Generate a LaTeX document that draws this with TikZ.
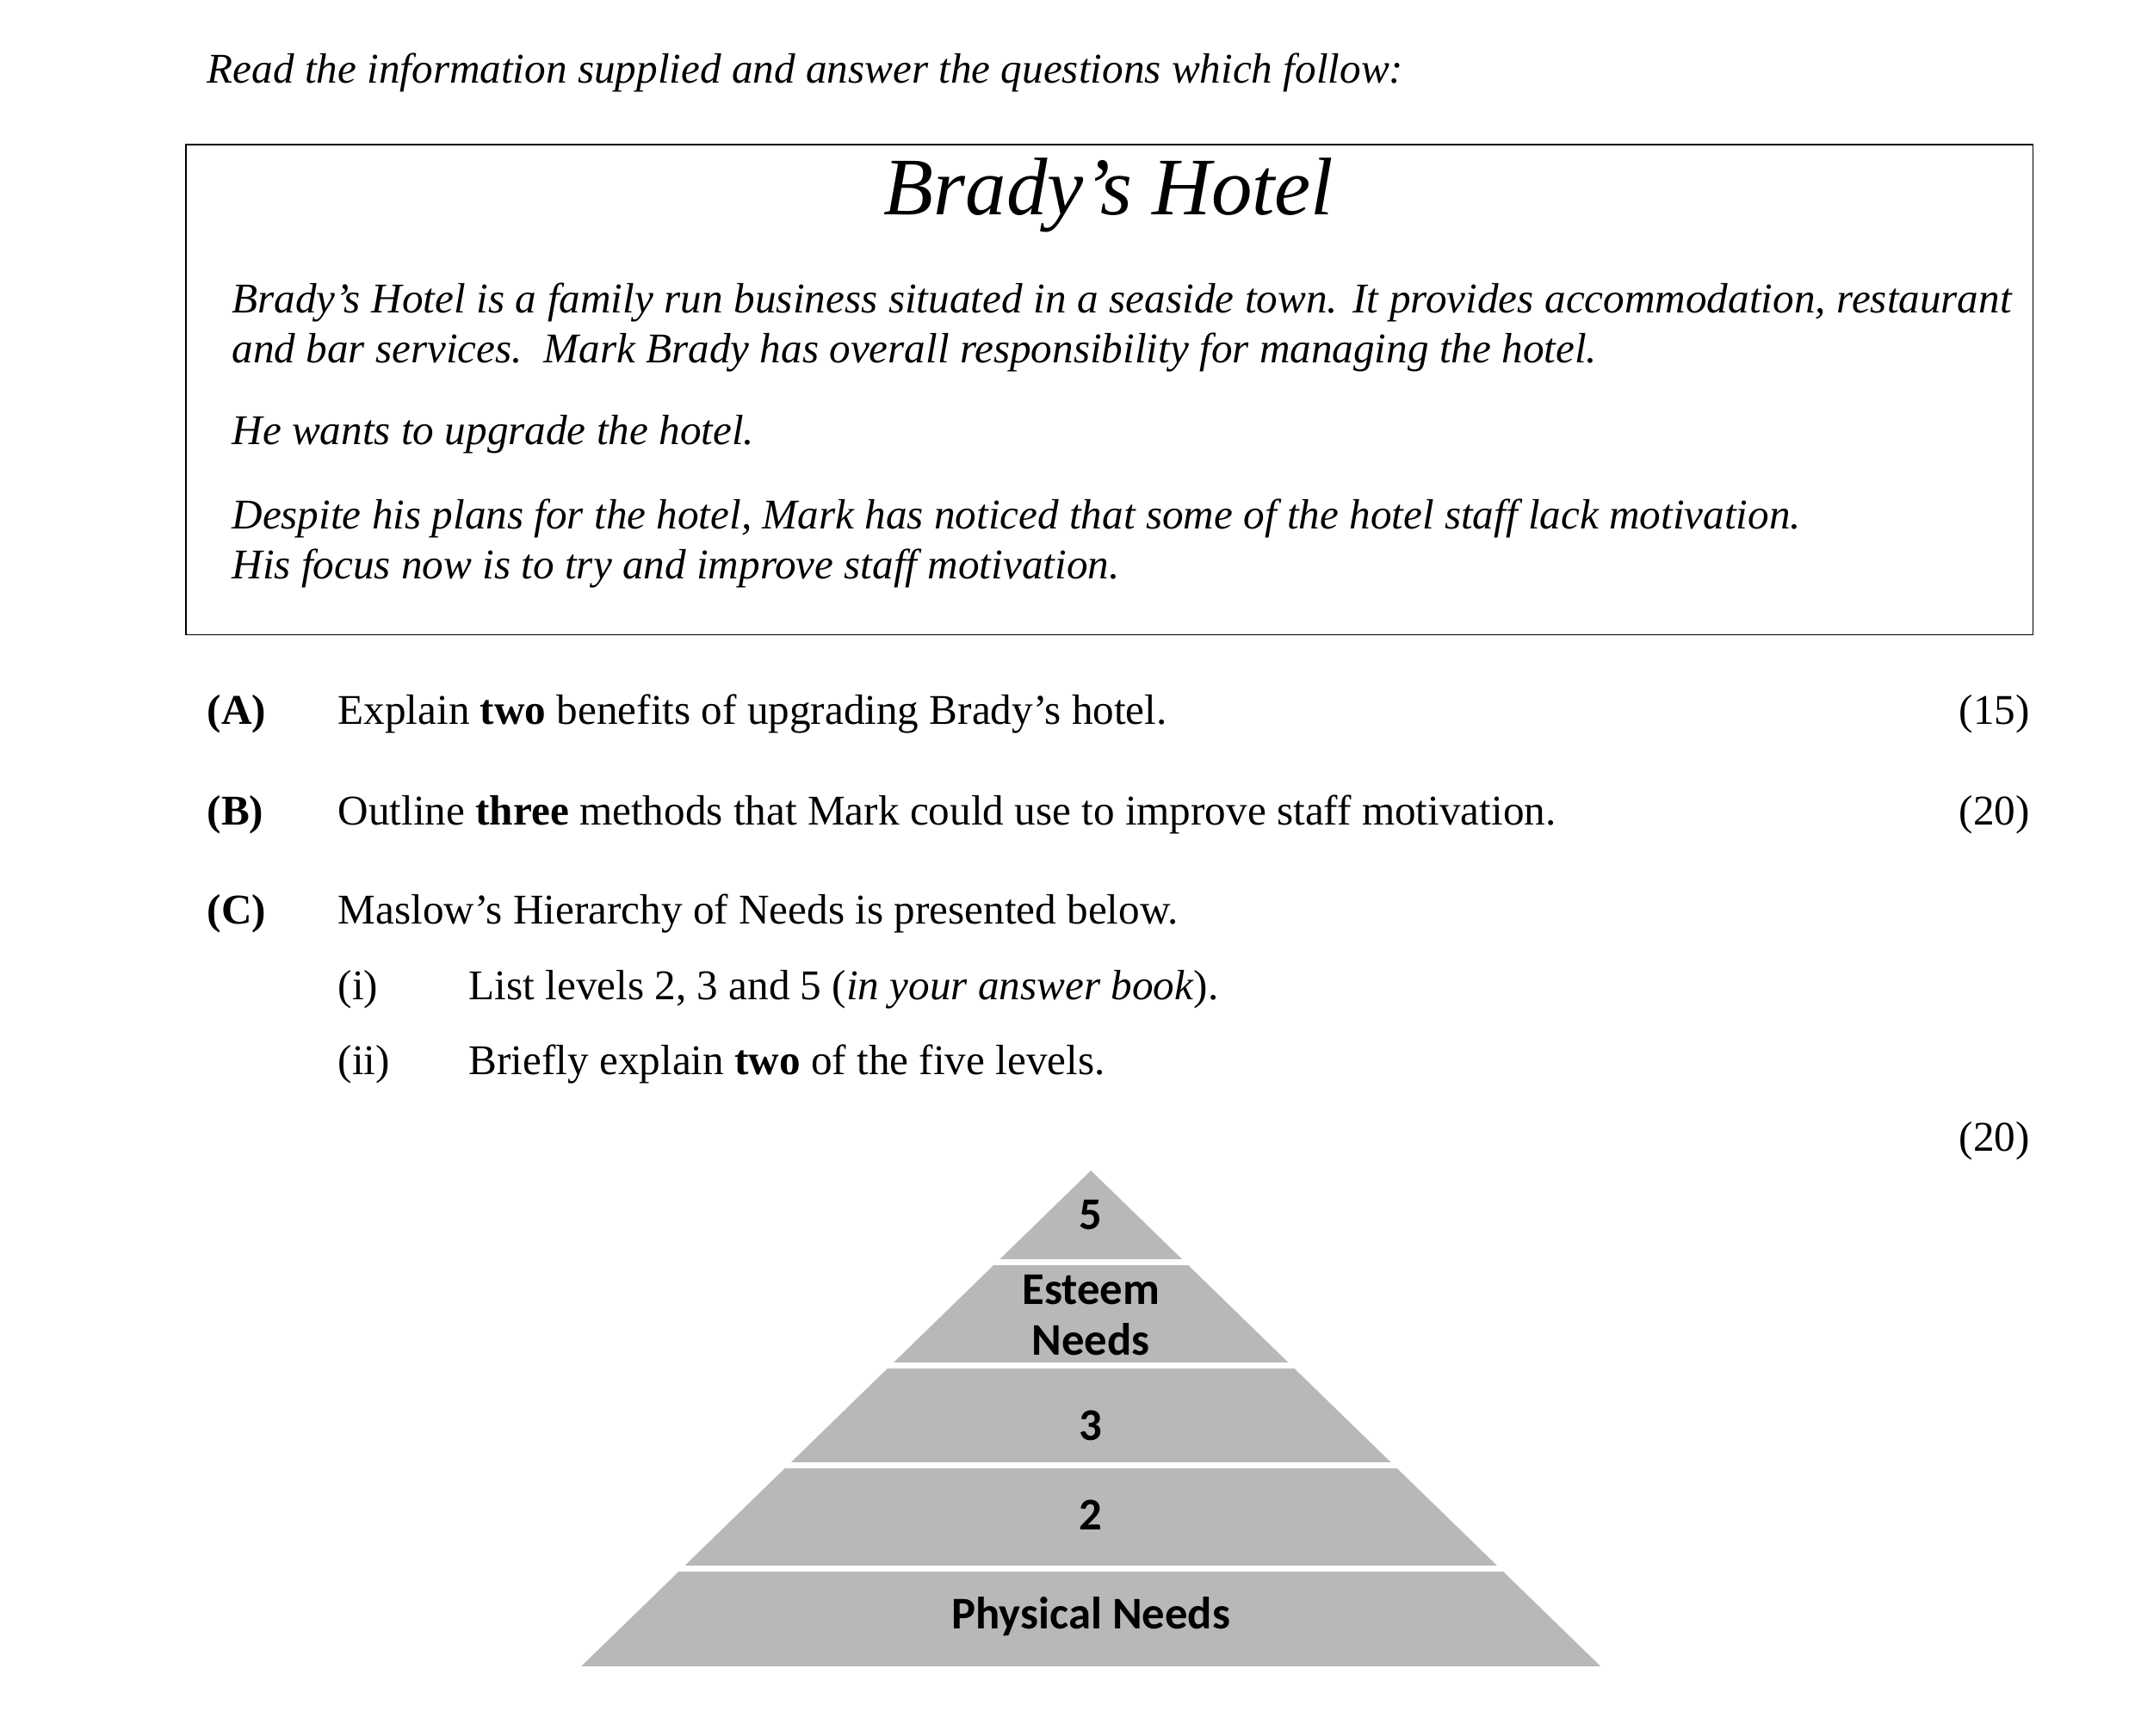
\documentclass[tikz,border=0pt]{standalone}
\usepackage{fontspec}
\setmainfont{Liberation Serif}
\newfontfamily\pyrfont{Carlito}
\begin{document}
\begin{tikzpicture}[x=0.016cm,y=-0.016cm,
body/.style={anchor=base west,inner sep=0pt,font=\fontsize{14}{16}\selectfont},
marks/.style={anchor=base east,inner sep=0pt,font=\fontsize{14}{16}\selectfont},
level/.style={inner sep=0pt,align=center,font=\pyrfont\bfseries\fontsize{15}{17}\selectfont},
gap/.style={white,line width=2.2pt}]
\useasboundingbox (0,0) rectangle (1550,1260);

% intro and case box
\node[body] (intro) at (150,60) {\itshape Read the information supplied and answer the questions which follow:};
\draw[thin] (135,105) rectangle (1476,461);
\node[inner sep=0pt,font=\itshape\fontsize{27}{30}\selectfont] (title) at (805,142) {Brady’s Hotel};
\node[body,anchor=north west,text width=1292*0.016cm,align=justify,font=\itshape\fontsize{14}{16.6}\selectfont] (para1) at (168,205)
  {Brady’s Hotel is a family run business situated in a seaside town. It provides accommodation, restaurant and bar services.\ \ Mark Brady has overall responsibility for managing the hotel.};
\node[body,font=\itshape\fontsize{14}{16}\selectfont] (para2) at (168,323) {He wants to upgrade the hotel.};
\node[body,font=\itshape\fontsize{14}{16}\selectfont] (para3) at (168,384) {Despite his plans for the hotel, Mark has noticed that some of the hotel staff lack motivation.};
\node[body,font=\itshape\fontsize{14}{16}\selectfont] (para4) at (168,420) {His focus now is to try and improve staff motivation.};

% questions
\node[body] (qa) at (150,526) {\bfseries (A)};
\node[body] (qatext) at (245,526) {Explain \textbf{two} benefits of upgrading Brady’s hotel.};
\node[marks] (qamark) at (1474,526) {(15)};
\node[body] (qb) at (150,599) {\bfseries (B)};
\node[body] (qbtext) at (245,599) {Outline \textbf{three} methods that Mark could use to improve staff motivation.};
\node[marks] (qbmark) at (1474,599) {(20)};
\node[body] (qc) at (150,671) {\bfseries (C)};
\node[body] (qctext) at (245,671) {Maslow’s Hierarchy of Needs is presented below.};
\node[body] (qi) at (245,726) {(i)};
\node[body] (qitext) at (340,726) {List levels 2, 3 and 5 (\textit{in your answer book}).};
\node[body] (qii) at (245,780) {(ii)};
\node[body] (qiitext) at (340,780) {Briefly explain \textbf{two} of the five levels.};
\node[marks] (qcmark) at (1474,836) {(20)};

% pyramid
\fill[black!28] (422,1210) -- (792,850) -- (1162,1210) -- cycle;
\foreach \yy in {916.5,991.5,1064,1139}
  \draw[gap] (400,\yy) -- (1190,\yy);
\node[level] (lvfive) at (792,882) {5};
\node[level] (lvfour) at (792,955) {Esteem\\Needs};
\node[level] (lvthree) at (792,1035) {3};
\node[level] (lvtwo) at (792,1100) {2};
\node[level] (lvone) at (792,1174) {Physical Needs};
\end{tikzpicture}
\end{document}
